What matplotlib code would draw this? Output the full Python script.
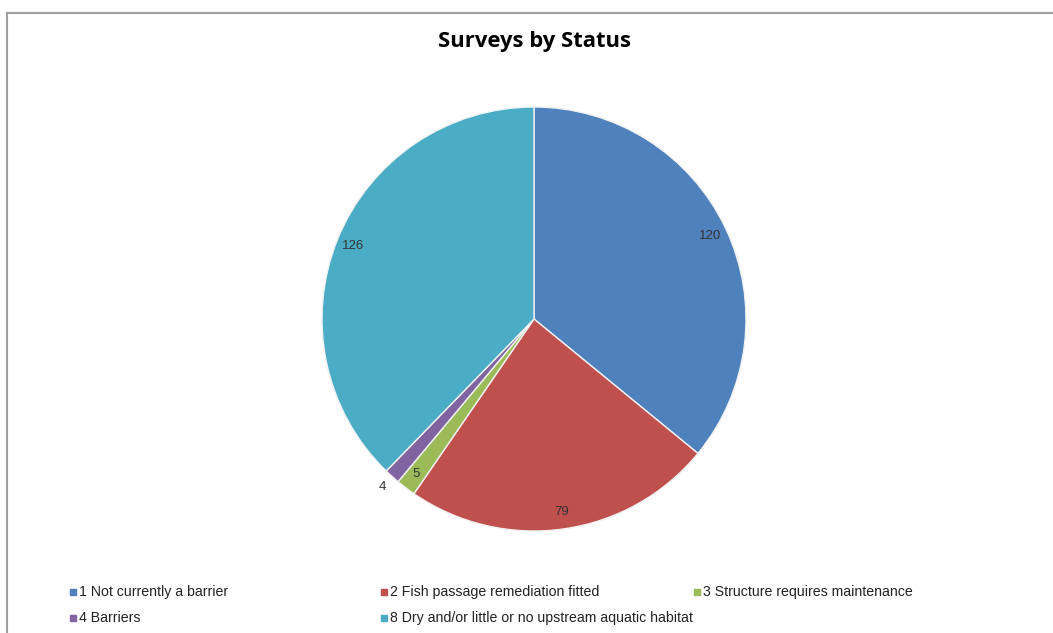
import matplotlib.pyplot as plt
from matplotlib.patches import Rectangle
from matplotlib.lines import Line2D
import numpy as np

labels = ["1 Not currently a barrier", "2 Fish passage remediation fitted",
          "3 Structure requires maintenance", "4 Barriers",
          "8 Dry and/or little or no upstream aquatic habitat"]
values = [120, 79, 5, 4, 126]
colors = ["#4F81BD", "#C0504D", "#9BBB59", "#8064A2", "#4BACC6"]

W, H = 1053, 633
fig = plt.figure(figsize=(W / 100, H / 100), dpi=100)

# chart border (left and top edges visible)
fig.add_artist(Line2D([6.5 / W, 6.5 / W], [0, 1 - 13 / H], color="#a0a0a0", lw=1.5))
fig.add_artist(Line2D([6.5 / W, 1], [1 - 13 / H, 1 - 13 / H], color="#a0a0a0", lw=1.5))

# pie axes: center (534, 319), radius 212
cx, cy, r = 534, 319, 212
ax = fig.add_axes([(cx - r) / W, 1 - (cy + r) / H, 2 * r / W, 2 * r / H])
wedges, _ = ax.pie(values, colors=colors, startangle=90, counterclock=False,
                   wedgeprops=dict(edgecolor="#f2f2f2", linewidth=1))
ax.set_xlim(-1, 1)
ax.set_ylim(-1, 1)
ax.set_aspect("equal")

for w, v in zip(wedges, values):
    ang = np.deg2rad((w.theta1 + w.theta2) / 2)
    d = 1.07 if v < 5 else 0.92
    ax.text(d * np.cos(ang), d * np.sin(ang), str(v), ha="center", va="center",
            fontsize=9.5, color="#333333", family="Liberation Sans")

fig.text(534 / W, 1 - 42 / H, "Surveys by Status", ha="center", va="center",
         fontsize=15.8, fontweight="bold", family="Open Sans")

# legend
xs = [73, 384, 697]
ys = [592, 618]
for i, (lab, c) in enumerate(zip(labels, colors)):
    x = xs[i % 3]
    y = ys[i // 3]
    fig.add_artist(Rectangle(((x - 3) / W, 1 - (y + 3) / H), 6 / W, 6 / H,
                             color=c, transform=fig.transFigure))
    fig.text((x + 6) / W, 1 - y / H, lab, ha="left", va="center",
             fontsize=10.2, color="#222222", family="Liberation Sans")

fig.savefig("out.png", dpi=100)
